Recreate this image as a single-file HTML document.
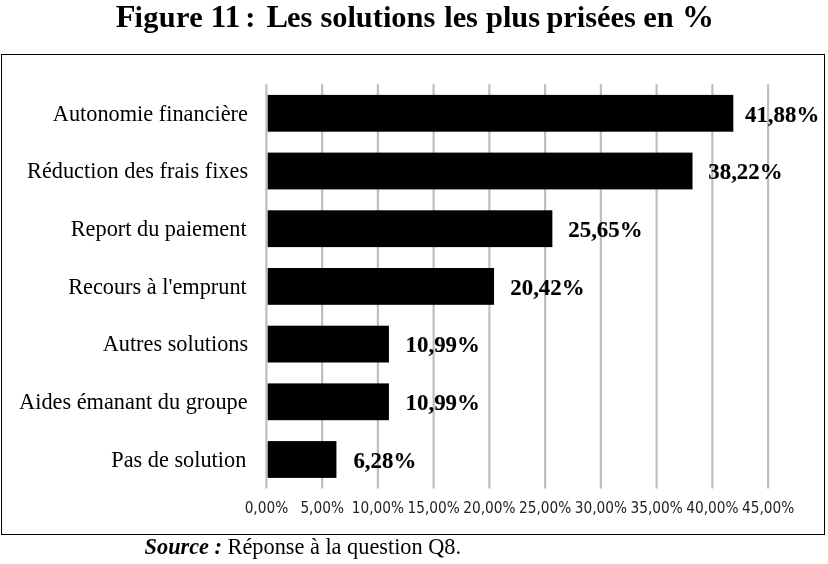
<!DOCTYPE html>
<html lang="fr">
<head>
<meta charset="utf-8">
<title>Figure 11 : Les solutions les plus prisées en %</title>
<style>
html,body{margin:0;padding:0;background:#fff;}
body{width:828px;height:564px;overflow:hidden;position:relative;font-family:"Liberation Serif",serif;color:#000;}
svg{position:absolute;left:0;top:0;display:block;}
text{white-space:pre;}
.title{font:bold 30.4px "Liberation Serif",serif;fill:#000;stroke:#000;stroke-width:0px;}
.cat{font:22.3px "Liberation Serif",serif;fill:#000;text-anchor:end;}
.val{font:bold 22.2px "Liberation Serif",serif;fill:#000;stroke:#000;stroke-width:0.12px;}
.tick{font:15.1px "DejaVu Sans Condensed","DejaVu Sans",sans-serif;fill:#222;text-anchor:middle;}
.src{font:22.3px "Liberation Serif",serif;fill:#000;}
.src .bi{font-weight:bold;font-style:italic;}
</style>
</head>
<body>
<svg width="828" height="564" viewBox="0 0 828 564">
<rect x="0" y="0" width="828" height="564" fill="#fff"/>
<rect x="1.5" y="54.5" width="823" height="480" fill="#fff" stroke="#000" stroke-width="1"/>
<text class="title" y="26.9"><tspan x="115.80"><tspan font-size="32.4">F</tspan><tspan dx="-1.0" letter-spacing="0.3">igure</tspan></tspan> <tspan x="210.40" font-size="31.6">11</tspan> <tspan x="245.20">:</tspan> <tspan x="266.50"><tspan font-size="32.4">L</tspan><tspan dx="-1.0">es</tspan></tspan> <tspan x="320.40">solutions</tspan> <tspan x="444.20">les</tspan> <tspan x="486.00">plus</tspan> <tspan x="546.40">prisées</tspan> <tspan x="643.30">en</tspan> <tspan x="681.90" font-size="32">%</tspan></text>
<g stroke="#bebebe" stroke-width="2.2">
<line x1="266.40" y1="84.2" x2="266.40" y2="488.5"/>
<line x1="322.14" y1="84.2" x2="322.14" y2="488.5"/>
<line x1="377.89" y1="84.2" x2="377.89" y2="488.5"/>
<line x1="433.63" y1="84.2" x2="433.63" y2="488.5"/>
<line x1="489.38" y1="84.2" x2="489.38" y2="488.5"/>
<line x1="545.12" y1="84.2" x2="545.12" y2="488.5"/>
<line x1="600.87" y1="84.2" x2="600.87" y2="488.5"/>
<line x1="656.61" y1="84.2" x2="656.61" y2="488.5"/>
<line x1="712.36" y1="84.2" x2="712.36" y2="488.5"/>
<line x1="768.10" y1="84.2" x2="768.10" y2="488.5"/>
</g>
<g fill="#000">
<rect x="267.70" y="94.90" width="465.62" height="36.8"/>
<rect x="267.70" y="152.60" width="424.81" height="36.8"/>
<rect x="267.70" y="210.30" width="284.67" height="36.8"/>
<rect x="267.70" y="268.00" width="226.36" height="36.8"/>
<rect x="267.70" y="325.70" width="121.23" height="36.8"/>
<rect x="267.70" y="383.40" width="121.23" height="36.8"/>
<rect x="267.70" y="441.10" width="68.72" height="36.8"/>
</g>
<text class="cat" x="247.9" y="121.00">Autonomie financière</text>
<text class="val" transform="translate(745.00,121.60) scale(1.03,1)">41,88%</text>
<text class="cat" x="248.1" y="178.00">Réduction des frais fixes</text>
<text class="val" transform="translate(708.30,179.30) scale(1.03,1)">38,22%</text>
<text class="cat" x="246.6" y="236.00">Report du paiement</text>
<text class="val" transform="translate(568.30,237.00) scale(1.03,1)">25,65%</text>
<text class="cat" x="246.8" y="294.00">Recours à l'emprunt</text>
<text class="val" transform="translate(510.30,294.70) scale(1.03,1)">20,42%</text>
<text class="cat" x="248.2" y="351.00">Autres solutions</text>
<text class="val" transform="translate(405.60,352.40) scale(1.03,1)">10,99%</text>
<text class="cat" x="247.6" y="409.00">Aides émanant du groupe</text>
<text class="val" transform="translate(405.60,410.10) scale(1.03,1)">10,99%</text>
<text class="cat" x="246.3" y="467.00">Pas de solution</text>
<text class="val" transform="translate(353.40,467.80) scale(1.03,1)">6,28%</text>
<text class="tick" transform="translate(266.40,513.2) scale(1.01,1)" textLength="43.1" lengthAdjust="spacingAndGlyphs">0,00%</text>
<text class="tick" transform="translate(322.14,513.2) scale(1.01,1)" textLength="43.1" lengthAdjust="spacingAndGlyphs">5,00%</text>
<text class="tick" transform="translate(377.89,513.2) scale(1.01,1)" textLength="51.73" lengthAdjust="spacingAndGlyphs">10,00%</text>
<text class="tick" transform="translate(433.63,513.2) scale(1.01,1)" textLength="51.73" lengthAdjust="spacingAndGlyphs">15,00%</text>
<text class="tick" transform="translate(489.38,513.2) scale(1.01,1)" textLength="51.73" lengthAdjust="spacingAndGlyphs">20,00%</text>
<text class="tick" transform="translate(545.12,513.2) scale(1.01,1)" textLength="51.73" lengthAdjust="spacingAndGlyphs">25,00%</text>
<text class="tick" transform="translate(600.87,513.2) scale(1.01,1)" textLength="51.73" lengthAdjust="spacingAndGlyphs">30,00%</text>
<text class="tick" transform="translate(656.61,513.2) scale(1.01,1)" textLength="51.73" lengthAdjust="spacingAndGlyphs">35,00%</text>
<text class="tick" transform="translate(712.36,513.2) scale(1.01,1)" textLength="51.73" lengthAdjust="spacingAndGlyphs">40,00%</text>
<text class="tick" transform="translate(768.10,513.2) scale(1.01,1)" textLength="51.73" lengthAdjust="spacingAndGlyphs">45,00%</text>
<text class="src" x="144.6" y="554.4"><tspan class="bi">Source :</tspan> Réponse à la question Q8.</text>
</svg>
</body>
</html>
